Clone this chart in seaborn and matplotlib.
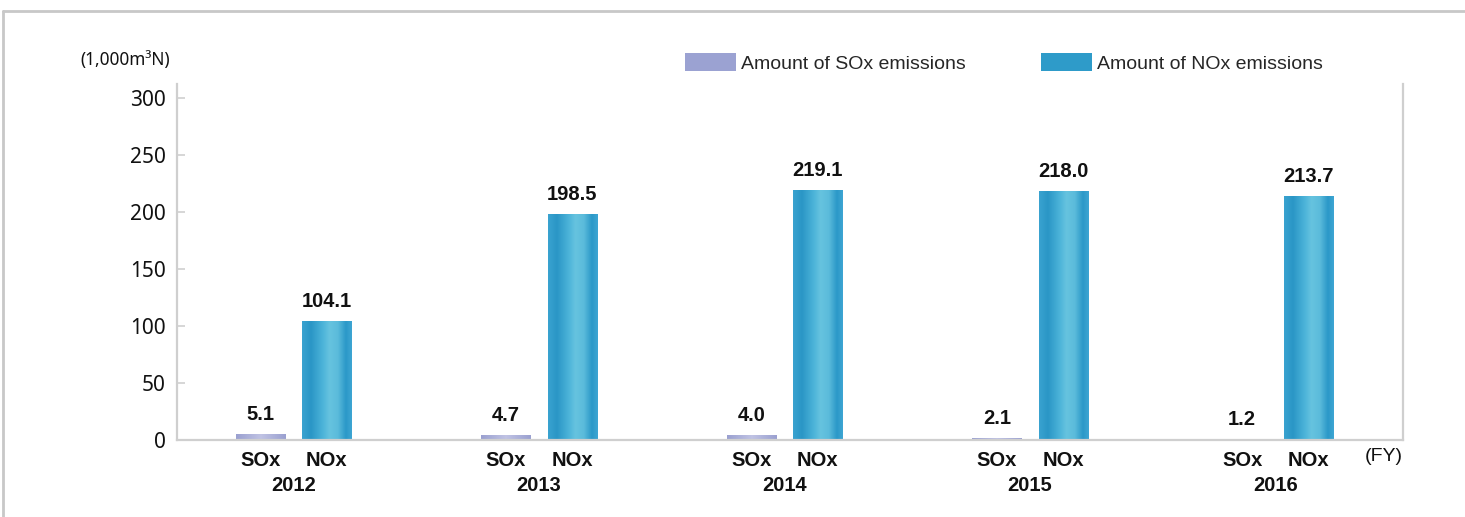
import numpy as np
import pandas as pd
import matplotlib
matplotlib.use("Agg")
import matplotlib.pyplot as plt
import seaborn as sns
from matplotlib.colors import LinearSegmentedColormap
from matplotlib.lines import Line2D
from matplotlib.patches import Patch

# Emissions by fiscal year (1,000 m3N)
years = ["2012", "2013", "2014", "2015", "2016"]
pollutants = ["SOx", "NOx"]
sox_values = [5.1, 4.7, 4.0, 2.1, 1.2]
nox_values = [104.1, 198.5, 219.1, 218.0, 213.7]
legend_labels = ["Amount of SOx emissions", "Amount of NOx emissions"]
y_ticks = [0, 50, 100, 150, 200, 250, 300]

df = pd.DataFrame({
    "year": years * 2,
    "pollutant": ["SOx"] * len(years) + ["NOx"] * len(years),
    "value": sox_values + nox_values,
})

sox_color = "#9ba2d2"
nox_color = "#2e9bc9"

sns.set_style("white")
plt.rcParams["font.family"] = ["Liberation Sans", "DejaVu Sans"]

W, H = 1465, 517
fig = plt.figure(figsize=(W / 100, H / 100), dpi=100)
ax = fig.add_axes([177 / W, 1 - 440 / H, (1403 - 177) / W, (440 - 84) / H])

sns.barplot(data=df, x="year", y="value", hue="pollutant", order=years,
            hue_order=pollutants, palette=[sox_color, nox_color],
            width=0.54, gap=0.26, saturation=1, linewidth=0,
            legend=False, ax=ax)

ax.set_xlim(-0.475, 4.52)
ax.set_ylim(0, 312)

# cylinder-style shading on each bar
grad = np.linspace(0, 1, 256).reshape(1, -1)
sox_cmap = LinearSegmentedColormap.from_list(
    "sox", [(0, "#9aa0d0"), (0.5, "#c0c3e4"), (1, "#9aa0d0")])
nox_cmap = LinearSegmentedColormap.from_list(
    "nox", [(0, "#3aa3d0"), (0.18, "#2a96c6"), (0.42, "#4db4d9"),
            (0.55, "#66c3df"), (0.72, "#5bbbdb"), (0.88, "#2b98c8"),
            (1, "#3ea6d3")])
for container, cmap in zip(ax.containers, [sox_cmap, nox_cmap]):
    for bar in container:
        x0, w = bar.get_x(), bar.get_width()
        y0, h = bar.get_y(), bar.get_height()
        im = ax.imshow(grad, cmap=cmap, extent=[x0, x0 + w, y0, y0 + h],
                       aspect="auto", zorder=bar.get_zorder() + 0.1,
                       interpolation="bilinear")
        im.set_clip_path(bar)
ax.set_xlim(-0.475, 4.52)
ax.set_ylim(0, 312)

# value labels and per-bar pollutant names
for container, name in zip(ax.containers, pollutants):
    for bar in container:
        cx = bar.get_x() + bar.get_width() / 2
        top = bar.get_height()
        ax.annotate(f"{top:.1f}", xy=(cx, top), xytext=(0, 14),
                    textcoords="offset points", ha="center", va="center",
                    fontsize=14.5, fontweight="bold", color="#111111")
        ax.annotate(name, xy=(cx, 0), xycoords=("data", "axes fraction"),
                    xytext=(0, -15), textcoords="offset points",
                    ha="center", va="center", fontsize=14.5,
                    fontweight="bold", color="#111111", annotation_clip=False)

# axes styling
spine_color = "#cfcfcf"
for side in ["left", "bottom", "right"]:
    ax.spines[side].set_color(spine_color)
    ax.spines[side].set_linewidth(1.6)
ax.spines["top"].set_visible(False)

ax.set_yticks(y_ticks)
ax.set_yticklabels([str(v) for v in y_ticks], family="Noto Sans", fontsize=15,
                   color="#111111")
ax.tick_params(axis="y", direction="in", length=6, width=1.2,
               color=spine_color, pad=8, left=True)

ax.set_xticks(range(len(years)))
ax.set_xticklabels(years, fontsize=14.5, fontweight="bold", color="#111111")
ax.tick_params(axis="x", which="major", length=0, pad=26)
ax.set_xticks([0.43, 3.62], minor=True)
ax.tick_params(axis="x", which="minor", direction="in", length=5,
               width=1.2, color=spine_color)
ax.set_xlabel("")
ax.set_ylabel("")

ax.text(1.0, -0.045, "(FY)", transform=ax.transAxes, ha="right", va="center",
        fontsize=14, color="#111111")

fig.text(80 / W, 1 - 60 / H, "(1,000m³N)", family="Noto Sans", fontsize=12.4,
         ha="left", va="center", color="#111111")

handles = [Patch(facecolor=sox_color, edgecolor="none"),
           Patch(facecolor=nox_color, edgecolor="none")]
fig.legend(handles, legend_labels, loc="center left",
           bbox_to_anchor=(685 / W, 1 - 63 / H), ncol=2, frameon=False,
           fontsize=14, handlelength=2.6, handleheight=1.03,
           handletextpad=0.27, columnspacing=3.9, borderpad=0,
           borderaxespad=0)

# outer panel frame
frame_color = "#c8c8c8"
fig.add_artist(Line2D([3 / W, 1], [1 - 11 / H, 1 - 11 / H],
                      transform=fig.transFigure, color=frame_color, lw=2))
fig.add_artist(Line2D([3 / W, 3 / W], [0, 1 - 11 / H],
                      transform=fig.transFigure, color=frame_color, lw=2))

fig.savefig("out.png", dpi=100, facecolor="white")
